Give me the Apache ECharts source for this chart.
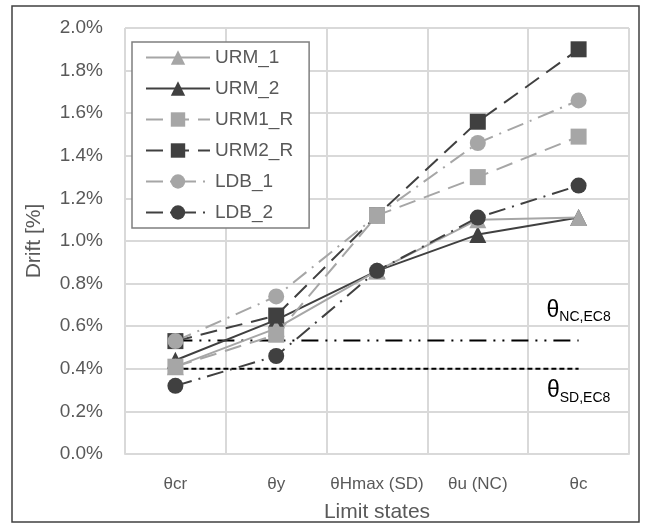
<!DOCTYPE html>
<html>
<head>
<meta charset="utf-8">
<script src="https://cdn.jsdelivr.net/npm/echarts@6/dist/echarts.min.js"></script>
<style>html,body{margin:0;padding:0;background:#fff}#c{width:651px;height:528px}</style>
</head>
<body>
<div id="c"></div>
<script>
const categories = ['θcr', 'θy', 'θHmax (SD)', 'θu (NC)', 'θc'];
const URM_1  = [0.41, 0.59, 0.86, 1.10, 1.11];
const URM_2  = [0.44, 0.63, 0.86, 1.03, 1.11];
const URM1_R = [0.41, 0.56, 1.12, 1.30, 1.49];
const URM2_R = [0.53, 0.65, 1.12, 1.56, 1.90];
const LDB_1  = [0.53, 0.74, 1.12, 1.46, 1.66];
const LDB_2  = [0.32, 0.46, 0.86, 1.11, 1.26];
const theta_NC = [0.533, 0.533, 0.533, 0.533, 0.533];
const theta_SD = [0.40, 0.40, 0.40, 0.40, 0.40];
const yTicks = { min: 0, max: 2.0, interval: 0.2 };

const LIGHT = '#a6a6a6', DARK = '#404040';
const FONT = 'Liberation Sans';

function mk(name, data, color, symbol, dash) {
  return {
    name, type: 'line', data, symbol, symbolSize: symbol === 'triangle' ? 17 : 16,
    itemStyle: { color, borderWidth: 0 },
    lineStyle: { color, width: 2, type: dash },
    emphasis: { disabled: true }, animation: false
  };
}

const chart = echarts.init(document.getElementById('c'), null, { renderer: 'canvas' });
chart.setOption({
  animation: false,
  backgroundColor: '#fff',
  textStyle: { fontFamily: FONT },
  grid: { left: 125, right: 22, top: 28, bottom: 73, containLabel: false },
  legend: {
    orient: 'vertical', left: 132, top: 42,
    backgroundColor: '#fff', borderColor: '#7f7f7f', borderWidth: 1.5,
    padding: [6, 16, 6, 13], itemWidth: 64, itemHeight: 18, itemGap: 12,
    textStyle: { fontSize: 19, color: '#595959', fontFamily: FONT },
    data: ['URM_1', 'URM_2', 'URM1_R', 'URM2_R', 'LDB_1', 'LDB_2']
  },
  xAxis: {
    type: 'category', data: categories, boundaryGap: true,
    name: 'Limit states', nameLocation: 'middle', nameGap: 48,
    nameTextStyle: { fontSize: 21, color: '#595959', fontFamily: FONT },
    axisLine: { lineStyle: { color: '#d9d9d9', width: 2 } },
    axisTick: { show: false },
    axisLabel: { interval: 0, fontSize: 17, color: '#595959', margin: 22, fontFamily: FONT },
    splitLine: { show: true, interval: 0, lineStyle: { color: '#d9d9d9', width: 2 } }
  },
  yAxis: {
    type: 'value', min: yTicks.min, max: yTicks.max, interval: yTicks.interval,
    name: 'Drift [%]', nameLocation: 'middle', nameGap: 80,
    nameTextStyle: { fontSize: 21, color: '#595959', fontFamily: FONT },
    axisLine: { show: false }, axisTick: { show: false },
    axisLabel: { fontSize: 19, color: '#595959', margin: 22, fontFamily: FONT,
      formatter: v => v.toFixed(1) + '%' },
    splitLine: { lineStyle: { color: '#d9d9d9', width: 2 } }
  },
  series: [
    {
      name: 'θSD', type: 'line', data: theta_SD, symbol: 'none', z: 1,
      lineStyle: { color: '#000', width: 2, type: [5, 3] },
      emphasis: { disabled: true }
    },
    {
      name: 'θNC', type: 'line', data: theta_NC, symbol: 'none', z: 1,
      lineStyle: { color: '#000', width: 2, type: [17, 7, 2, 7, 2, 7] },
      emphasis: { disabled: true }
    },
    mk('URM_2', URM_2, DARK, 'triangle', 'solid'),
    mk('URM_1', URM_1, LIGHT, 'triangle', 'solid'),
    mk('LDB_2', LDB_2, DARK, 'circle', [17, 7, 2, 7]),
    mk('URM2_R', URM2_R, DARK, 'rect', [17, 9]),
    mk('URM1_R', URM1_R, LIGHT, 'rect', [17, 9]),
    mk('LDB_1', LDB_1, LIGHT, 'circle', [17, 7, 2, 7])
  ]
});

// Threshold labels, anchored to the threshold series values through the axes
const pNC = chart.convertToPixel({ xAxisIndex: 0, yAxisIndex: 0 }, [3.5, theta_NC[4]]);
const pSD = chart.convertToPixel({ xAxisIndex: 0, yAxisIndex: 0 }, [3.5, theta_SD[4]]);
function lbl(p, sub, dy) {
  return {
    type: 'text', x: p[0], y: p[1] + dy, z: 50,
    style: {
      text: '{t|θ}{s|' + sub + '}', align: 'center', verticalAlign: 'middle',
      rich: {
        t: { fontSize: 23, fontFamily: FONT, fill: '#000', lineHeight: 26 },
        s: { fontSize: 14, fontFamily: FONT, fill: '#000', lineHeight: 26, padding: [14, 0, 0, 0] }
      }
    }
  };
}
chart.setOption({ graphic: [
  { type: 'rect', shape: { x: 12, y: 6, width: 627, height: 516 },
    style: { fill: 'none', stroke: '#404040', lineWidth: 1.5 }, silent: true, z: 100 },
  lbl(pNC, 'NC,EC8', -30),
  lbl(pSD, 'SD,EC8', 22)
] });
</script>
</body>
</html>
